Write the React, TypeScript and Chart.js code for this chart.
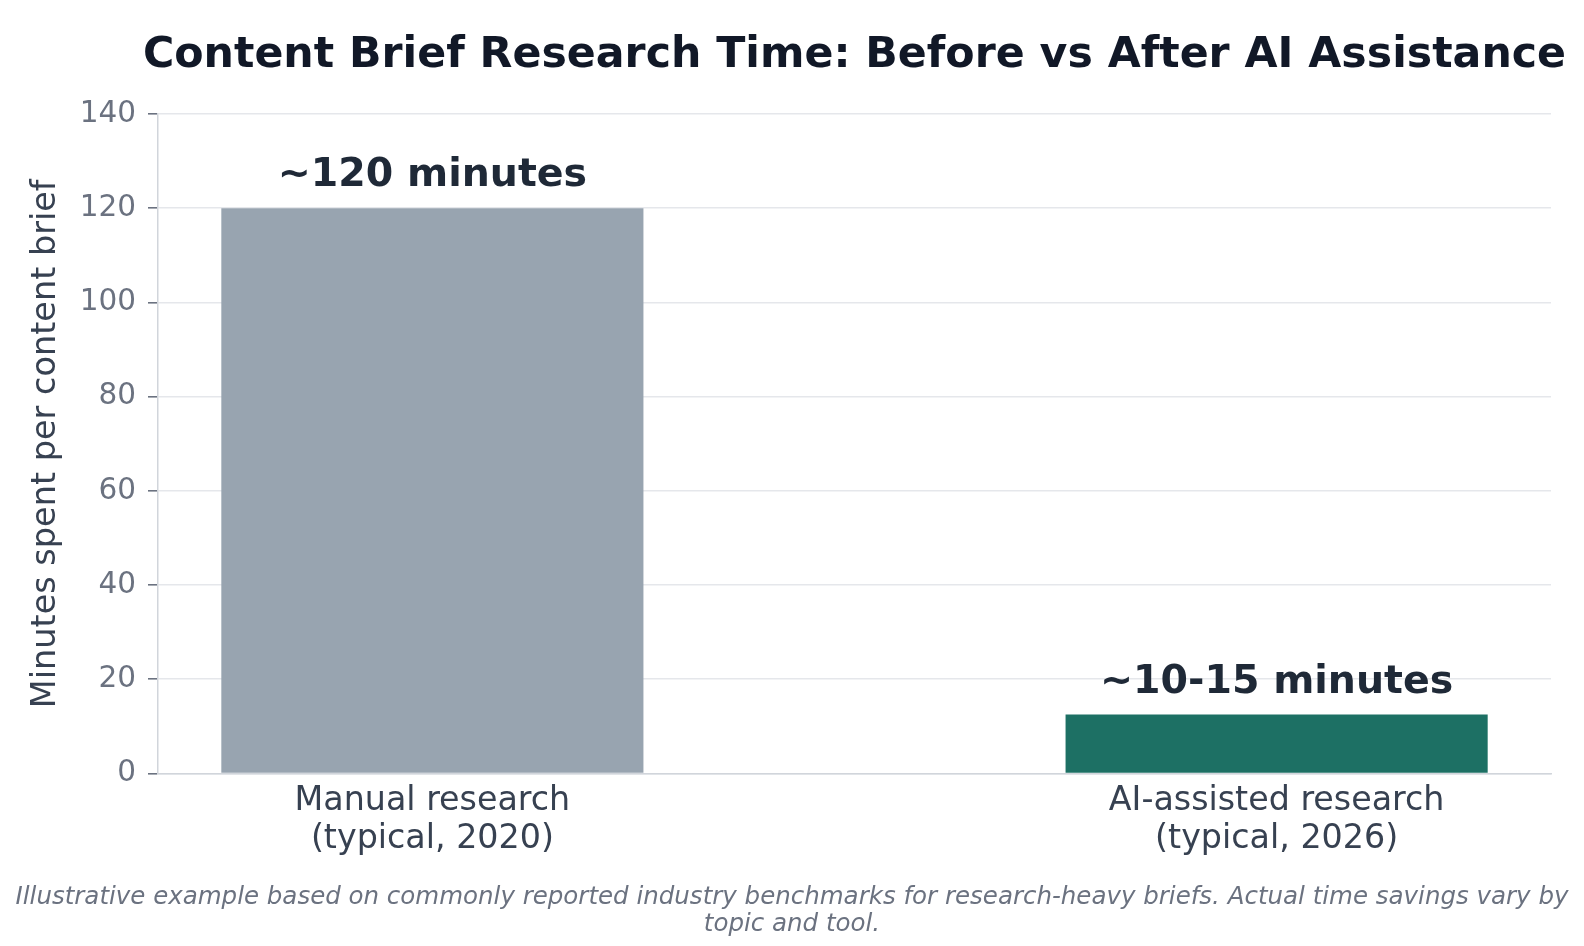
import { useEffect, useRef } from "react"
import { Chart, registerables } from "chart.js"

Chart.register(...registerables)

// chart data
const categories = ["Manual research\n(typical, 2020)", "AI-assisted research\n(typical, 2026)"]
const xPositions = [0, 1]
const minutes = [120, 12.5]
const valueLabels = ["~120 minutes", "~10-15 minutes"]
const barColors = ["#98a4b0", "#1d7064"]

const titleText = "Content Brief Research Time: Before vs After AI Assistance"
const yAxisTitle = "Minutes spent per content brief"
const footnoteLines = [
  "Illustrative example based on commonly reported industry benchmarks for research-heavy briefs. Actual time savings vary by",
  "topic and tool.",
]

const FONT = "'DejaVu Sans', sans-serif"
const WIDTH = 1584
const HEIGHT = 946

// text above each bar
const valueLabelPlugin = {
  id: "valueLabels",
  afterDatasetsDraw(chart: Chart) {
    const ctx = chart.ctx
    const meta = chart.getDatasetMeta(0)
    ctx.save()
    ctx.font = `bold 39.5px ${FONT}`
    ctx.fillStyle = "#1f2937"
    ctx.textAlign = "center"
    ctx.textBaseline = "alphabetic"
    meta.data.forEach((bar: any, i: number) => {
      ctx.fillText(valueLabels[i], bar.x, bar.y - 22)
    })
    ctx.restore()
  },
}

// title centred over the plot, footnote centred on the figure
const textPlugin = {
  id: "figureText",
  afterDraw(chart: Chart) {
    const { ctx, chartArea } = chart
    ctx.save()
    ctx.textAlign = "center"
    ctx.textBaseline = "alphabetic"
    ctx.fillStyle = "#111827"
    ctx.font = `bold 42.7px ${FONT}`
    ctx.fillText(titleText, (chartArea.left + chartArea.right) / 2, 66.5)

    ctx.fillStyle = "#6b7280"
    ctx.font = `italic 24.5px ${FONT}`
    footnoteLines.forEach((line, i) => {
      ctx.fillText(line, chart.width / 2, 904 + i * 27)
    })
    ctx.restore()
  },
}

export default function App() {
  const chartRef = useRef<HTMLCanvasElement>(null)
  const chartInstance = useRef<Chart | null>(null)

  useEffect(() => {
    if (!chartRef.current) return
    if (chartInstance.current) chartInstance.current.destroy()

    const ctx = chartRef.current.getContext("2d")
    if (!ctx) return

    chartInstance.current = new Chart(ctx, {
      type: "bar",
      data: {
        datasets: [
          {
            data: xPositions.map((x, i) => ({ x, y: minutes[i] })),
            backgroundColor: barColors,
            borderWidth: 0,
            barPercentage: 0.5,
            categoryPercentage: 1,
          },
        ],
      },
      plugins: [valueLabelPlugin, textPlugin],
      options: {
        animation: false,
        responsive: false,
        layout: { padding: { top: 114, right: 33, bottom: 0, left: 33 } },
        plugins: {
          legend: { display: false },
          tooltip: { enabled: false },
          title: { display: false },
        },
        scales: {
          x: {
            type: "linear",
            min: -0.325,
            max: 1.325,
            offset: false,
            afterBuildTicks: (scale: any) => {
              scale.ticks = xPositions.map((v) => ({ value: v }))
            },
            afterFit: (scale: any) => {
              scale.height = 172.5
            },
            grid: { display: false, drawTicks: false },
            border: { display: true, color: "#d1d5db", width: 1.5 },
            ticks: {
              color: "#374151",
              font: { family: FONT, size: 33.3, lineHeight: 1.13 },
              padding: 9,
              maxRotation: 0,
              callback: (_v: any, i: number) => categories[i].split("\n"),
            },
          },
          y: {
            min: 0,
            max: 140,
            afterFit: (scale: any) => {
              scale.width = 125
            },
            grid: {
              color: "#e5e7eb",
              lineWidth: 1.6,
              tickLength: 10,
              tickColor: "#6b7280",
              tickWidth: 1.6,
            },
            border: { display: true, color: "#d1d5db", width: 1.5 },
            ticks: {
              stepSize: 20,
              color: "#6b7280",
              font: { family: FONT, size: 29.5 },
              padding: 12,
            },
            title: {
              display: true,
              text: yAxisTitle,
              color: "#374151",
              font: { family: FONT, size: 33.5, lineHeight: 0.8 },
              padding: { top: 0, bottom: 0 },
            },
          },
        },
      },
    })

    return () => {
      if (chartInstance.current) {
        chartInstance.current.destroy()
        chartInstance.current = null
      }
    }
  }, [])

  return (
    <div style={{ position: "fixed", left: 0, top: 0, width: WIDTH, height: HEIGHT, background: "#fff" }}>
      <canvas ref={chartRef} width={WIDTH} height={HEIGHT} style={{ width: WIDTH, height: HEIGHT }} />
    </div>
  )
}
